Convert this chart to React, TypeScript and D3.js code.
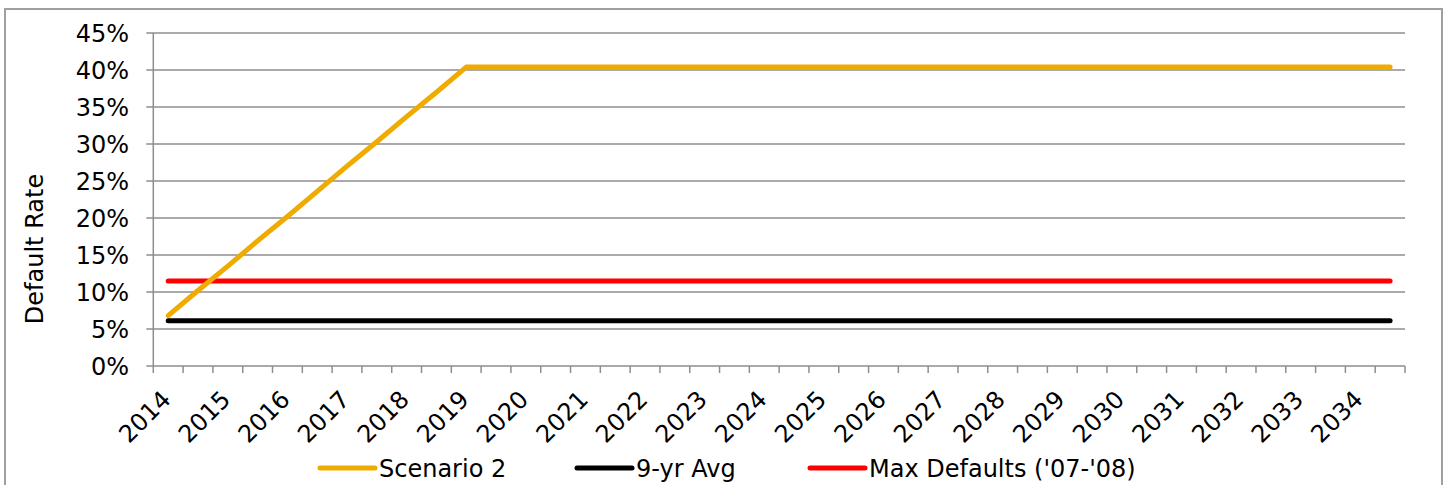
import React from "react";
import * as d3 from "d3";

const years = [2014, 2015, 2016, 2017, 2018, 2019, 2020, 2021, 2022, 2023, 2024, 2025, 2026, 2027, 2028, 2029, 2030, 2031, 2032, 2033, 2034];
const periods = years.flatMap((y) => [`${y} H1`, `${y} H2`]);

const scenario2 = [
  6.8, 10.2, 13.5, 16.9, 20.2, 23.6, 27.0, 30.3, 33.7, 37.0, 40.4,
  40.4, 40.4, 40.4, 40.4, 40.4, 40.4, 40.4, 40.4, 40.4, 40.4,
  40.4, 40.4, 40.4, 40.4, 40.4, 40.4, 40.4, 40.4, 40.4, 40.4,
  40.4, 40.4, 40.4, 40.4, 40.4, 40.4, 40.4, 40.4, 40.4, 40.4, 40.4,
];
const nineYrAvg = [
  6.1, 6.1, 6.1, 6.1, 6.1, 6.1, 6.1, 6.1, 6.1, 6.1, 6.1,
  6.1, 6.1, 6.1, 6.1, 6.1, 6.1, 6.1, 6.1, 6.1, 6.1,
  6.1, 6.1, 6.1, 6.1, 6.1, 6.1, 6.1, 6.1, 6.1, 6.1,
  6.1, 6.1, 6.1, 6.1, 6.1, 6.1, 6.1, 6.1, 6.1, 6.1, 6.1,
];
const maxDefaults = [
  11.5, 11.5, 11.5, 11.5, 11.5, 11.5, 11.5, 11.5, 11.5, 11.5, 11.5,
  11.5, 11.5, 11.5, 11.5, 11.5, 11.5, 11.5, 11.5, 11.5, 11.5,
  11.5, 11.5, 11.5, 11.5, 11.5, 11.5, 11.5, 11.5, 11.5, 11.5,
  11.5, 11.5, 11.5, 11.5, 11.5, 11.5, 11.5, 11.5, 11.5, 11.5, 11.5,
];
const yTicks = [0, 5, 10, 15, 20, 25, 30, 35, 40, 45];

const series = [
  { name: "Scenario 2", values: scenario2, color: "#F0AB00" },
  { name: "9-yr Avg", values: nineYrAvg, color: "#000000" },
  { name: "Max Defaults ('07-'08)", values: maxDefaults, color: "#FF0000" },
];
const drawOrder = [1, 2, 0];
const legendX = [320, 577, 810];

const FONT = "Verdana, 'DejaVu Sans', sans-serif";
const GRID = "#8e8e8e";
const FS = 24;

export default function App() {
  const left = 153.3, right = 1405, top = 33, bottom = 366;
  const x = d3.scaleBand<string>().domain(periods).range([left, right]).padding(0);
  const y = d3.scaleLinear().domain([0, 45]).range([bottom, top]);
  const cx = (p: string) => (x(p) as number) + x.bandwidth() / 2;
  const line = d3
    .line<number>()
    .x((_, i) => cx(periods[i]))
    .y((v) => y(v));

  const tickXs = periods.map((p) => x(p) as number).concat([right]);

  return (
    <svg
      width={1445}
      height={485}
      style={{ position: "absolute", left: 0, top: 0, background: "#fff" }}
      fontFamily={FONT}
    >
      <rect x={5} y={9} width={1437} height={500} fill="#fff" stroke="#a0a0a0" strokeWidth={2} />
      {yTicks.map((t) => (
        <g key={t}>
          <line x1={left - 7} x2={right} y1={y(t)} y2={y(t)} stroke={GRID} strokeWidth={1.5} />
          <text x={129} y={y(t)} dy="0.36em" textAnchor="end" fontSize={FS} fill="#000">
            {`${t}%`}
          </text>
        </g>
      ))}
      <line x1={left} x2={left} y1={top} y2={bottom} stroke={GRID} strokeWidth={1.5} />
      {tickXs.map((tx, i) => (
        <line key={i} x1={tx} x2={tx} y1={bottom} y2={bottom + 7} stroke={GRID} strokeWidth={1.5} />
      ))}
      {periods.map((p, i) =>
        i % 2 === 0 ? (
          <text
            key={p}
            transform={`translate(${cx(p) + 4},${401}) rotate(-45)`}
            textAnchor="end"
            fontSize={FS}
            fill="#000"
          >
            {p.slice(0, 4)}
          </text>
        ) : null
      )}
      <text
        transform={`translate(${43},${249}) rotate(-90)`}
        textAnchor="middle"
        fontSize={FS}
        fill="#000"
      >
        Default Rate
      </text>
      {drawOrder.map((k) => (
        <path
          key={series[k].name}
          d={line(series[k].values) as string}
          fill="none"
          stroke={series[k].color}
          strokeWidth={5}
          strokeLinecap="round"
          strokeLinejoin="round"
        />
      ))}
      {series.map((s, i) => (
        <g key={s.name}>
          <line x1={legendX[i]} x2={legendX[i] + 55} y1={468} y2={468} stroke={s.color} strokeWidth={5} strokeLinecap="round" />
          <text x={legendX[i] + 59} y={468} dy="0.36em" fontSize={FS} fill="#000">
            {s.name}
          </text>
        </g>
      ))}
    </svg>
  );
}
